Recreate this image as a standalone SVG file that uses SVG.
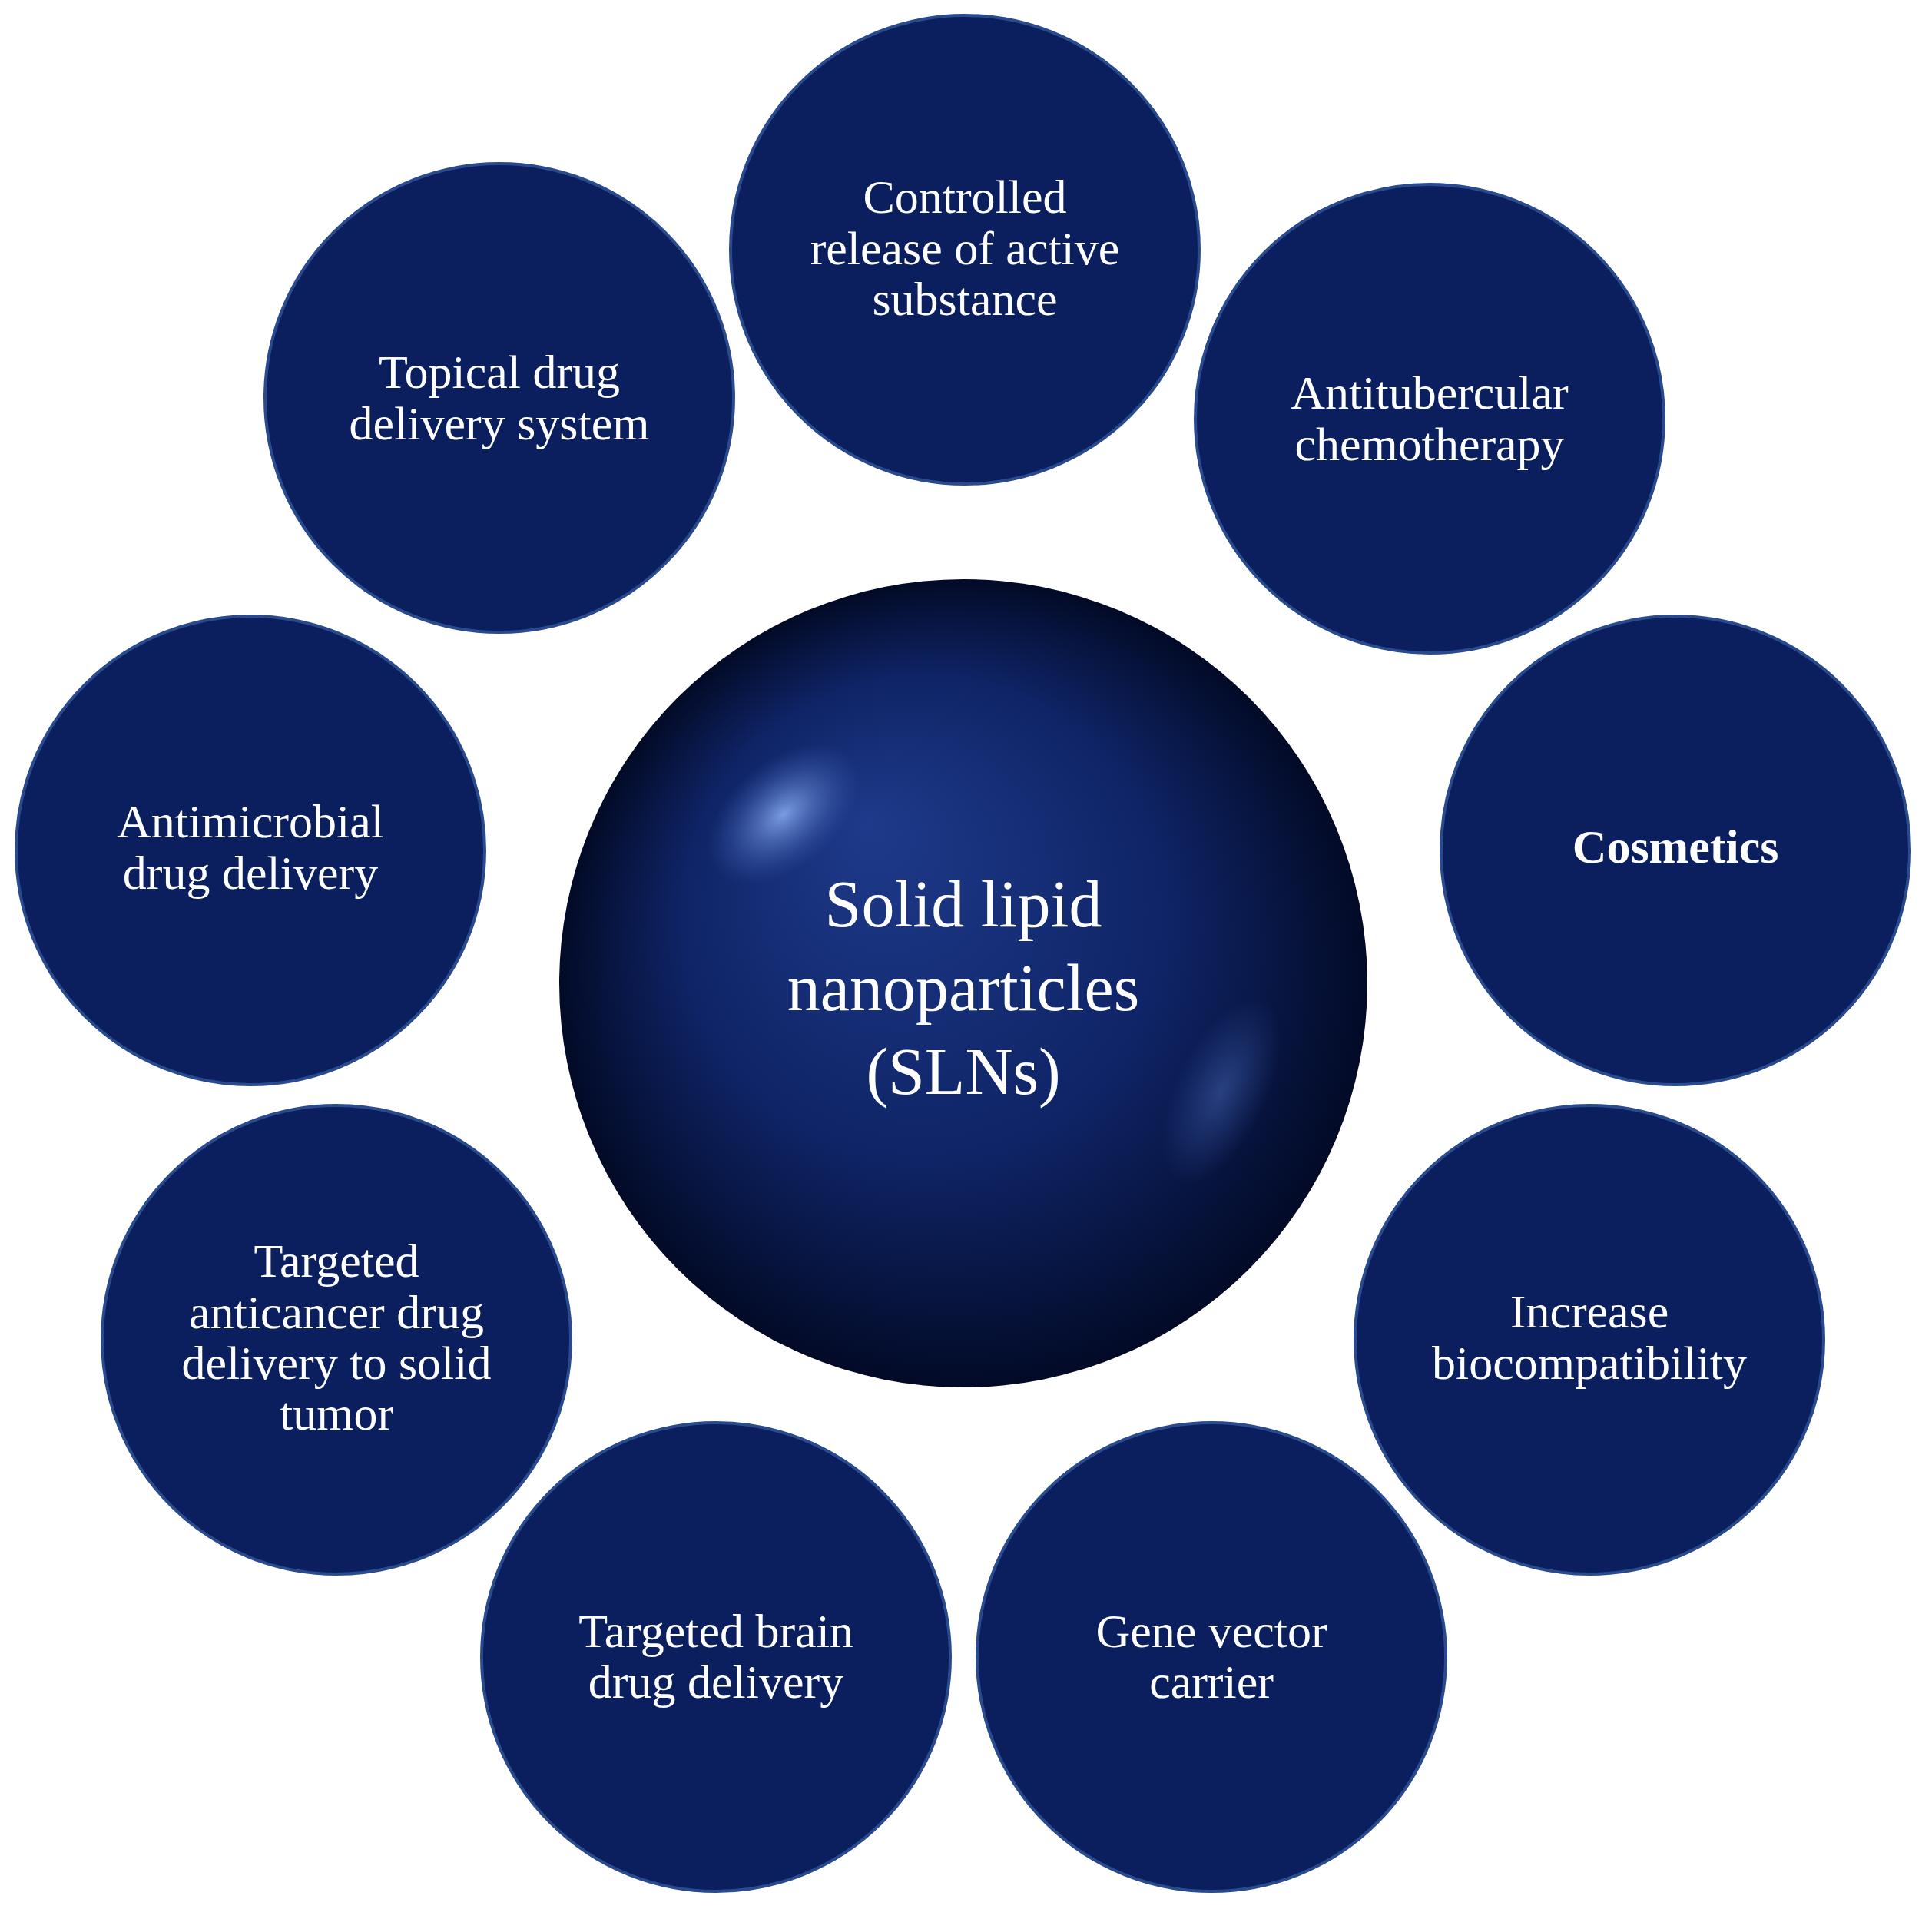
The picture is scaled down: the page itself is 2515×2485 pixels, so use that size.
<svg xmlns="http://www.w3.org/2000/svg" width="2515" height="2485" viewBox="0 0 2515 2485">
<style>
.c{fill:#0b1f5e;stroke:#2a4a8e;stroke-width:4}
.t{font-family:"Liberation Serif",serif;font-size:62px;fill:#fff;text-anchor:middle}
</style>
<defs>
<radialGradient id="sph" cx="0.5" cy="0.5" r="0.5" fx="0.38" fy="0.3">
<stop offset="0" stop-color="#1e3a8a"/>
<stop offset="0.6" stop-color="#0f2466"/>
<stop offset="1" stop-color="#020a26"/>
</radialGradient>
<radialGradient id="hl" cx="0.5" cy="0.5" r="0.5">
<stop offset="0" stop-color="#7fa2e6" stop-opacity="0.95"/>
<stop offset="1" stop-color="#3a5cb0" stop-opacity="0"/>
</radialGradient>
<radialGradient id="hl2" cx="0.5" cy="0.5" r="0.5">
<stop offset="0" stop-color="#4a6ab8" stop-opacity="0.5"/>
<stop offset="1" stop-color="#3a5cb0" stop-opacity="0"/>
</radialGradient>
</defs>
<rect width="2515" height="2485" fill="#fff"/>
<g id="connectors"/>
<g id="n-controlled"><circle class="c" cx="1256" cy="325" r="305"/><text class="t" x="1256" y="277">Controlled</text><text class="t" x="1256" y="344">release of active</text><text class="t" x="1256" y="410">substance</text></g>
<g id="n-topical"><circle class="c" cx="650" cy="518" r="305"/><text class="t" x="650" y="505">Topical drug</text><text class="t" x="650" y="572">delivery system</text></g>
<g id="n-antitub"><circle class="c" cx="1861" cy="545" r="305"/><text class="t" x="1861" y="532">Antitubercular</text><text class="t" x="1861" y="599">chemotherapy</text></g>
<g id="n-antimicro"><circle class="c" cx="326" cy="1107" r="305"/><text class="t" x="326" y="1090">Antimicrobial</text><text class="t" x="326" y="1157">drug delivery</text></g>
<g id="n-cosmetics"><circle class="c" cx="2181" cy="1107" r="305"/><text class="t" x="2181" y="1123" font-weight="bold">Cosmetics</text></g>
<g id="n-anticancer"><circle class="c" cx="438" cy="1744" r="305"/><text class="t" x="438" y="1662">Targeted</text><text class="t" x="438" y="1729">anticancer drug</text><text class="t" x="438" y="1795">delivery to solid</text><text class="t" x="438" y="1861">tumor</text></g>
<g id="n-increase"><circle class="c" cx="2069" cy="1744" r="305"/><text class="t" x="2069" y="1728">Increase</text><text class="t" x="2069" y="1795">biocompatibility</text></g>
<g id="n-brain"><circle class="c" cx="932" cy="2157" r="305"/><text class="t" x="932" y="2144">Targeted brain</text><text class="t" x="932" y="2210">drug delivery</text></g>
<g id="n-gene"><circle class="c" cx="1577" cy="2157" r="305"/><text class="t" x="1577" y="2144">Gene vector</text><text class="t" x="1577" y="2210">carrier</text></g>
<g id="n-center">
<circle cx="1254" cy="1280" r="526" fill="url(#sph)"/>
<ellipse cx="1020" cy="1060" rx="115" ry="70" transform="rotate(-40 1020 1060)" fill="url(#hl)"/>
<ellipse cx="1590" cy="1420" rx="60" ry="130" transform="rotate(25 1590 1420)" fill="url(#hl2)"/>
<text class="t" style="font-size:86px" x="1254" y="1206">Solid lipid</text>
<text class="t" style="font-size:86px" x="1254" y="1315">nanoparticles</text>
<text class="t" style="font-size:86px" x="1254" y="1424">(SLNs)</text>
</g>
</svg>
